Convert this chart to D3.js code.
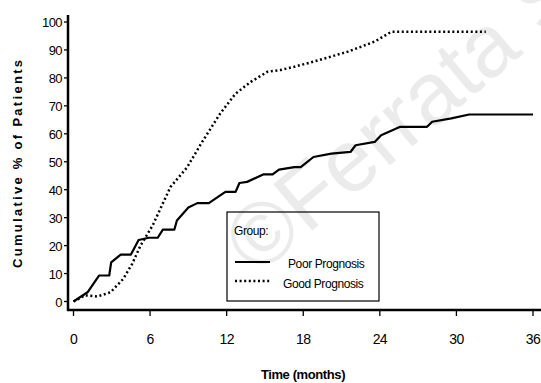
<!DOCTYPE html>
<html>
<head>
<meta charset="utf-8">
<script src="https://cdn.jsdelivr.net/npm/d3@7"></script>
<style>
  html, body { margin: 0; padding: 0; background: #fff; overflow: hidden; }
  svg { display: block; }
</style>
</head>
<body>
<div id="chart"></div>
<script>
(function () {
  "use strict";

  var FONT = "'Liberation Sans', Arial, sans-serif";

  // data
  var poorMonths = [0, 1.1, 2.0, 2.8, 2.95, 3.7, 4.5, 5.1, 5.9, 6.6, 7.0, 7.9, 8.1, 9.0, 9.7, 10.6, 11.9, 12.7, 13.0, 13.6, 14.9, 15.6, 16.1, 17.3, 17.8, 18.8, 20.2, 21.7, 22.1, 23.6, 24.1, 25.6, 27.7, 28.1, 29.6, 31.0, 36];
  var poorPct = [0, 3.3, 9.3, 9.3, 14, 16.8, 16.8, 22, 22.8, 22.8, 25.7, 25.7, 29, 33.6, 35.2, 35.2, 39.2, 39.2, 42.4, 42.8, 45.5, 45.5, 47.2, 48.1, 48.1, 51.7, 52.9, 53.5, 55.9, 57.1, 59.5, 62.5, 62.5, 64.3, 65.5, 66.9, 66.9];
  var goodMonths = [0, 0.9, 1.9, 2.9, 3.9, 4.6, 5.25, 6.2, 7.6, 8.9, 10.0, 10.9, 11.5, 12.7, 13.9, 15.2, 16.2, 17.3, 18.8, 21.5, 23.6, 24.9, 32.3];
  var goodPct = [0, 2.2, 1.8, 3.3, 8.1, 13.5, 20, 27.2, 41, 48, 56.5, 63, 67.3, 74.4, 78.6, 82.2, 82.8, 84, 85.8, 89.4, 93, 96.5, 96.5];
  var xTicks = [0, 6, 12, 18, 24, 30, 36];
  var yTicks = [0, 10, 20, 30, 40, 50, 60, 70, 80, 90, 100];
  var groupNames = ["Poor Prognosis", "Good Prognosis"];

  var W = 541, H = 383;

  var svg = d3.select("#chart").append("svg")
    .attr("width", W).attr("height", H)
    .style("background", "#fff");

  var x = d3.scaleLinear().domain([0, 36]).range([73.5, 533]);
  var y = d3.scaleLinear().domain([0, 100]).range([301.5, 22]);

  // watermark (runs off the top-right corner like the original)
  svg.append("clipPath").attr("id", "clip-wm")
    .append("rect").attr("width", W).attr("height", H);
  svg.append("g").attr("clip-path", "url(#clip-wm)")
    .append("text")
    .attr("transform", "translate(257,277) rotate(-40)")
    .attr("fill", "#ebebeb").attr("font-size", "88px")
    .attr("font-family", FONT)
    .text("\u00a9Ferrata S");

  // axes lines
  svg.append("line").attr("x1", 68).attr("x2", 68).attr("y1", 15).attr("y2", 311)
    .attr("stroke", "#000").attr("stroke-width", 2.5);
  svg.append("line").attr("x1", 67).attr("x2", 541).attr("y1", 310).attr("y2", 310)
    .attr("stroke", "#000").attr("stroke-width", 2.5);

  yTicks.forEach(function (v) {
    svg.append("line").attr("x1", 64).attr("x2", 68)
      .attr("y1", y(v)).attr("y2", y(v))
      .attr("stroke", "#000").attr("stroke-width", 1.3);
    svg.append("text").attr("x", 62).attr("y", y(v) + 5)
      .attr("text-anchor", "end")
      .attr("font-size", "13px").attr("font-family", FONT)
      .attr("letter-spacing", "-0.6")
      .text(v);
  });

  xTicks.forEach(function (v) {
    svg.append("line").attr("x1", x(v)).attr("x2", x(v))
      .attr("y1", 310).attr("y2", 316)
      .attr("stroke", "#000").attr("stroke-width", 1.3);
    svg.append("text").attr("x", x(v)).attr("y", 344)
      .attr("text-anchor", "middle")
      .attr("font-size", "14px").attr("font-family", FONT)
      .attr("letter-spacing", "-0.6")
      .text(v);
  });

  // axis titles
  svg.append("text").attr("x", 303).attr("y", 379)
    .attr("text-anchor", "middle")
    .attr("font-size", "13px").attr("font-weight", "bold").attr("font-family", FONT)
    .attr("letter-spacing", "-0.4")
    .text("Time (months)");
  svg.append("text")
    .attr("transform", "translate(22,164) rotate(-90)")
    .attr("text-anchor", "middle")
    .attr("font-size", "13px").attr("font-weight", "bold").attr("font-family", FONT)
    .attr("textLength", 208).attr("lengthAdjust", "spacing")
    .text("Cumulative % of Patients");

  var line = d3.line()
    .x(function (d) { return x(d[0]); })
    .y(function (d) { return y(d[1]); });

  var poor = poorMonths.map(function (m, i) { return [m, poorPct[i]]; });
  var good = goodMonths.map(function (m, i) { return [m, goodPct[i]]; });

  svg.append("path").datum(good).attr("d", line)
    .attr("fill", "none").attr("stroke", "#000")
    .attr("stroke-width", 2.5).attr("stroke-dasharray", "2,2.6");
  svg.append("path").datum(poor).attr("d", line)
    .attr("fill", "none").attr("stroke", "#000")
    .attr("stroke-width", 2.2).attr("stroke-linejoin", "round");

  // legend
  var leg = svg.append("g").attr("transform", "translate(227,212)");
  leg.append("rect").attr("x", 0).attr("y", 0).attr("width", 152).attr("height", 89)
    .attr("fill", "none").attr("stroke", "#000").attr("stroke-width", 1.2);
  leg.append("text").attr("x", 7).attr("y", 23)
    .attr("font-size", "12px").attr("font-family", FONT)
    .attr("letter-spacing", "-0.4")
    .text("Group:");
  leg.append("line").attr("x1", 8).attr("x2", 43).attr("y1", 50).attr("y2", 50)
    .attr("stroke", "#000").attr("stroke-width", 2.2);
  leg.append("line").attr("x1", 8).attr("x2", 43).attr("y1", 69).attr("y2", 69)
    .attr("stroke", "#000").attr("stroke-width", 2.5).attr("stroke-dasharray", "2,2.6");
  leg.append("text").attr("x", 61).attr("y", 56)
    .attr("font-size", "12px").attr("font-family", FONT)
    .attr("letter-spacing", "-0.4")
    .text(groupNames[0]);
  leg.append("text").attr("x", 56).attr("y", 76)
    .attr("font-size", "12px").attr("font-family", FONT)
    .attr("letter-spacing", "-0.4")
    .text(groupNames[1]);
})();
</script>
</body>
</html>
